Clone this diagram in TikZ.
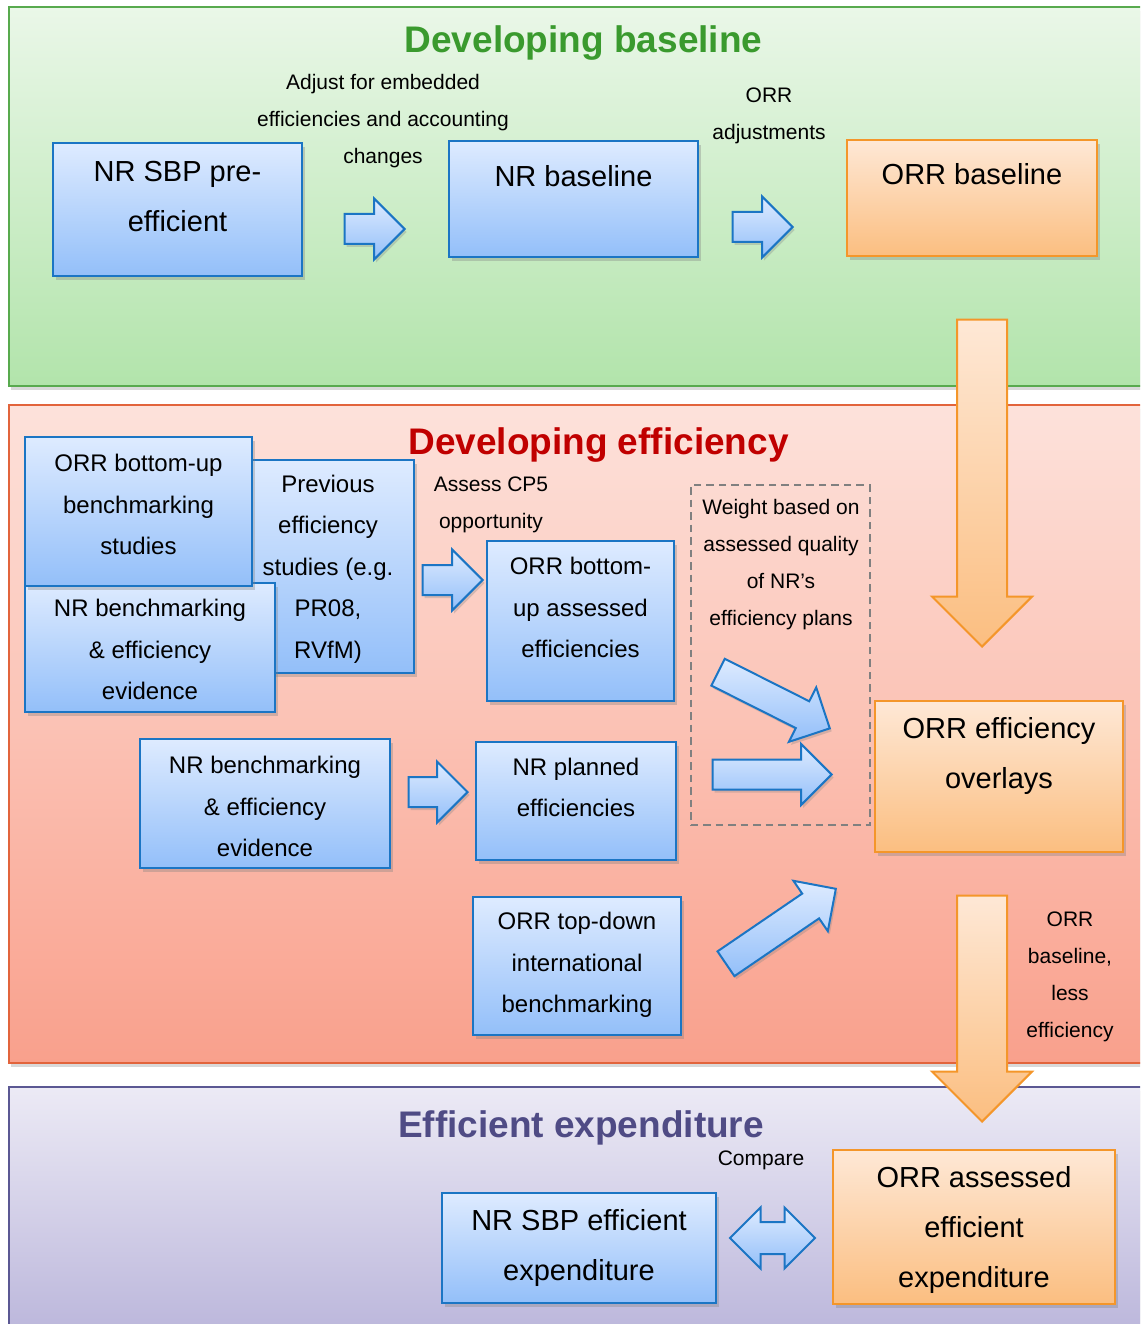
\documentclass[tikz,border=0pt]{standalone}
\usepackage{fontspec}
\setmainfont{Liberation Sans}
\usetikzlibrary{shapes.arrows,shadows}
\definecolor{greentop}{RGB}{234,247,232}
\definecolor{greenbot}{RGB}{178,228,171}
\definecolor{greenline}{RGB}{88,170,78}
\definecolor{greentitle}{RGB}{58,154,46}
\definecolor{redtop}{RGB}{253,226,219}
\definecolor{redbot}{RGB}{249,160,140}
\definecolor{redline}{RGB}{226,100,60}
\definecolor{redtitle}{RGB}{192,0,0}
\definecolor{purpletop}{RGB}{236,234,245}
\definecolor{purplebot}{RGB}{185,180,218}
\definecolor{purpleline}{RGB}{91,88,147}
\definecolor{purpletitle}{RGB}{79,75,133}
\definecolor{bluetop}{RGB}{222,235,255}
\definecolor{bluebot}{RGB}{147,191,249}
\definecolor{blueline}{RGB}{27,117,196}
\definecolor{orangetop}{RGB}{254,232,214}
\definecolor{orangebot}{RGB}{251,190,128}
\definecolor{orangeline}{RGB}{244,150,42}
\begin{document}
\begin{tikzpicture}[x=1pt, y=-1pt,
		panel/.style={draw=#1, line width=2pt, minimum width=1141pt, inner sep=0pt, drop shadow={shadow xshift=2pt, shadow yshift=-4pt, opacity=.3}},
		boxbase/.style={line width=2pt, inner sep=0pt, drop shadow={shadow xshift=3pt, shadow yshift=-4pt, opacity=.35}},
		bluebox/.style={boxbase, draw=blueline, top color=bluetop, bottom color=bluebot},
		orangebox/.style={boxbase, draw=orangeline, top color=orangetop, bottom color=orangebot},
		sz/.style 2 args={minimum width=#1pt, minimum height=#2pt},
		bigtxt/.style={font=\fontsize{29}{50}\selectfont, align=center, anchor=center},
		midtxt/.style={font=\fontsize{24}{41.5}\selectfont, align=center, anchor=center},
		smalltxt/.style={font=\fontsize{21}{37}\selectfont, align=center},
		heading/.style={font=\fontsize{37}{44}\selectfont\bfseries, anchor=base},
		bluearrow/.style={single arrow, anchor=tip, draw=blueline, line width=2pt, top color=bluetop, bottom color=bluebot, inner xsep=0pt, inner ysep=14pt, minimum width=59pt, minimum height=#1pt, single arrow head extend=15.5pt, drop shadow={shadow xshift=2pt, shadow yshift=-3pt, opacity=.3}},
		orangearrow/.style={single arrow, anchor=tip, rotate=-90, draw=orangeline, line width=2pt, top color=orangetop, bottom color=orangebot, inner xsep=0pt, inner ysep=24pt, minimum width=98pt, minimum height=#1pt, single arrow head extend=25pt}]
		\useasboundingbox (0,0) rectangle (1140,1324);
		\clip (0,0) rectangle (1140,1324);
		\node[panel=greenline, top color=greentop, bottom color=greenbot, minimum height=379pt] (basepanel) at (579.5,196.5) {};
		\node[panel=redline, top color=redtop, bottom color=redbot, minimum height=658pt] (effpanel) at (579.5,734) {};
		\node[panel=purpleline, top color=purpletop, bottom color=purplebot, minimum height=258pt] (exppanel) at (579.5,1216) {};
		\node[heading, text=greentitle] (basetitle) at (583.5,53) {Developing baseline};
		\node[heading, text=redtitle] (efftitle) at (598.5,454) {Developing efficiency};
		\node[heading, text=purpletitle] (exptitle) at (581,1137) {Efficient expenditure};
		
		\node[bluebox, sz={249}{133}, label={[bigtxt, yshift=-54.5pt]north:{NR SBP pre-\\efficient}}] (sbp) at (177.5,209.5) {};
		\node[bluebox, sz={249}{116}, label={[bigtxt, yshift=-36pt]north:{NR baseline}}] (nrbase) at (573.5,199) {};
		\node[orangebox, sz={250}{116}, label={[bigtxt, yshift=-35pt]north:{ORR baseline}}] (orrbase) at (972,198) {};
		\node[bluearrow=60] (arr1) at (406,229) {};
		\node[bluearrow=60] (arr2) at (794,227) {};
		\node[smalltxt] (adjtxt) at (383,121.5) {Adjust for embedded\\efficiencies and accounting\\changes};
		\node[smalltxt] (orradjtxt) at (769,115.5) {ORR\\adjustments};
		
		\node[bluebox, sz={162}{213}, label={[midtxt, xshift=-5pt, yshift=-110pt]north:{Previous\\efficiency\\studies (e.g.\\PR08,\\RVfM)}}] (prev) at (333,566.5) {};
		\node[bluebox, sz={250}{129}, label={[midtxt, yshift=-67.5pt]north:{NR benchmarking\\\& efficiency\\evidence}}] (nrbench) at (150,647.5) {};
		\node[bluebox, sz={227}{149}, label={[midtxt, yshift=-68.5pt]north:{ORR bottom-up\\benchmarking\\studies}}] (orrbu) at (138.5,511.5) {};
		\node[bluebox, sz={187}{160}, label={[midtxt, yshift=-67.5pt]north:{ORR bottom-\\up assessed\\efficiencies}}] (orrbua) at (580.5,621) {};
		\node[bluebox, sz={250}{129}, label={[midtxt, yshift=-68.5pt]north:{NR benchmarking\\\& efficiency\\evidence}}] (nrbenchb) at (265,803.5) {};
		\node[bluebox, sz={200}{118}, label={[midtxt, yshift=-46.5pt]north:{NR planned\\efficiencies}}] (nrplan) at (576,801) {};
		\node[bluebox, sz={208}{138}, label={[midtxt, yshift=-69pt]north:{ORR top-down\\international\\benchmarking}}] (topdown) at (577,966) {};
		\node[orangebox, sz={248}{151}, label={[bigtxt, yshift=-56pt]north:{ORR efficiency\\overlays}}] (overlays) at (999,776.5) {};
		\node[draw=black!50, line width=2pt, dash pattern=on 7.5pt off 5pt, sz={179}{340}] (weightbox) at (780,655) {};
		\node[smalltxt] (weighttxt) at (781,565) {Weight based on\\assessed quality\\of NR’s\\efficiency plans};
		\node[smalltxt] (cp5txt) at (491,505) {Assess CP5\\opportunity};
		\node[bluearrow=60] (arr3) at (484,580) {};
		\node[bluearrow=59] (arr4) at (469,792) {};
		\node[bluearrow=125, rotate=-26.7] (arr5) at (831,729) {};
		\node[bluearrow=119] (arr6) at (833,774.5) {};
		\node[bluearrow=133, rotate=34.3] (arr7) at (837,888) {};
		\node[orangearrow=327] (down1) at (982,648) {};
		\node[orangearrow=226] (down2) at (982,1123) {};
		\node[smalltxt] (lesstxt) at (1070,977) {ORR\\baseline,\\less\\efficiency};
		
		\node[bluebox, sz={274}{110}, label={[bigtxt, yshift=-56pt]north:{NR SBP efficient\\expenditure}}] (nrsbpeff) at (579,1248) {};
		\node[orangebox, sz={282}{154}, label={[bigtxt, yshift=-81pt]north:{ORR assessed\\efficient\\expenditure}}] (orrassess) at (974,1227) {};
		\node[double arrow, draw=blueline, line width=2pt, top color=bluetop, bottom color=bluebot, inner xsep=0pt, inner ysep=15pt, minimum width=59pt, minimum height=85pt, double arrow head extend=14.5pt] (cmparrow) at (772.5,1238) {};
		\node[smalltxt] (cmptxt) at (761,1160.5) {Compare};
		
		\end{tikzpicture}
\end{document}
